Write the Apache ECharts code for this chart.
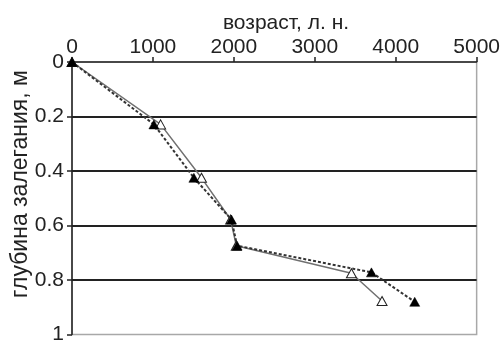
<!DOCTYPE html>
<html>
<head>
<meta charset="utf-8">
<script src="https://cdn.jsdelivr.net/npm/echarts@6/dist/echarts.min.js"></script>
<style>html,body{margin:0;padding:0;background:#fff}#c{width:503px;height:345px}</style>
</head>
<body>
<div id="c"></div>
<script>
var xTitle = 'возраст, л. н.';
var yTitle = 'глубина залегания, м';
// series A: solid line, open triangles (age, depth)
var ageA = [0, 1095, 1600, 1960, 2030, 3453, 3831];
var depthA = [0, 0.229, 0.425, 0.578, 0.674, 0.775, 0.877];
// series B: dashed line, filled triangles
var ageB = [0, 1012, 1506, 1970, 2040, 3700, 4235];
var depthB = [0, 0.229, 0.425, 0.578, 0.674, 0.772, 0.88];

function pairs(a, d) { return a.map(function (v, i) { return [v, d[i]]; }); }

var font = '"Liberation Sans", Arial, sans-serif';
var chart = echarts.init(document.getElementById('c'), null, {renderer: 'canvas'});
chart.setOption({
  animation: false,
  backgroundColor: '#fff',
  grid: {left: 72, right: 26, top: 62, bottom: 4, show: true, borderColor: '#a8a8a8', borderWidth: 1.5, backgroundColor: 'transparent'},
  xAxis: {
    type: 'value', position: 'top', min: 0, max: 5000, interval: 1000,
    axisLine: {show: true, lineStyle: {color: '#222', width: 1.5}},
    axisTick: {show: true, inside: false, length: 5, lineStyle: {color: '#222', width: 1.5}},
    axisLabel: {color: '#222', fontSize: 21, fontFamily: 'Liberation Sans', margin: 4,
      formatter: function (v) { return String(v); }},
    splitLine: {show: false}
  },
  yAxis: {
    type: 'value', inverse: true, min: 0, max: 1, interval: 0.2,
    axisLine: {show: true, lineStyle: {color: '#222', width: 1.5}},
    axisTick: {show: true, inside: false, length: 5, lineStyle: {color: '#222', width: 1.5}},
    axisLabel: {color: '#222', fontSize: 21, fontFamily: 'Liberation Sans', margin: 8,
      formatter: function (v) { return String(Math.round(v * 10) / 10); }},
    splitLine: {show: true, showMinLine: false, showMaxLine: false, lineStyle: {color: '#222', width: 1.8}}
  },
  graphic: [
    {type: 'text', x: 286, y: 23, style: {text: xTitle, fill: '#222', font: '21px ' + font, align: 'center', verticalAlign: 'middle'}},
    {type: 'text', x: 21, y: 184, rotation: Math.PI / 2, style: {text: yTitle, fill: '#222', font: '23px ' + font, align: 'center', verticalAlign: 'middle'}}
  ],
  series: [
    {
      type: 'line', data: pairs(ageA, depthA), symbol: 'triangle', symbolSize: [10, 9],
      lineStyle: {color: '#707070', width: 1.5},
      itemStyle: {color: '#fff', borderColor: '#222', borderWidth: 1},
      z: 3
    },
    {
      type: 'line', data: pairs(ageB, depthB), symbol: 'triangle', symbolSize: [10, 9],
      lineStyle: {color: '#333', width: 2, type: [3, 2]},
      itemStyle: {color: '#000', borderColor: '#000', borderWidth: 0.5},
      z: 4
    }
  ]
});
</script>
</body>
</html>
